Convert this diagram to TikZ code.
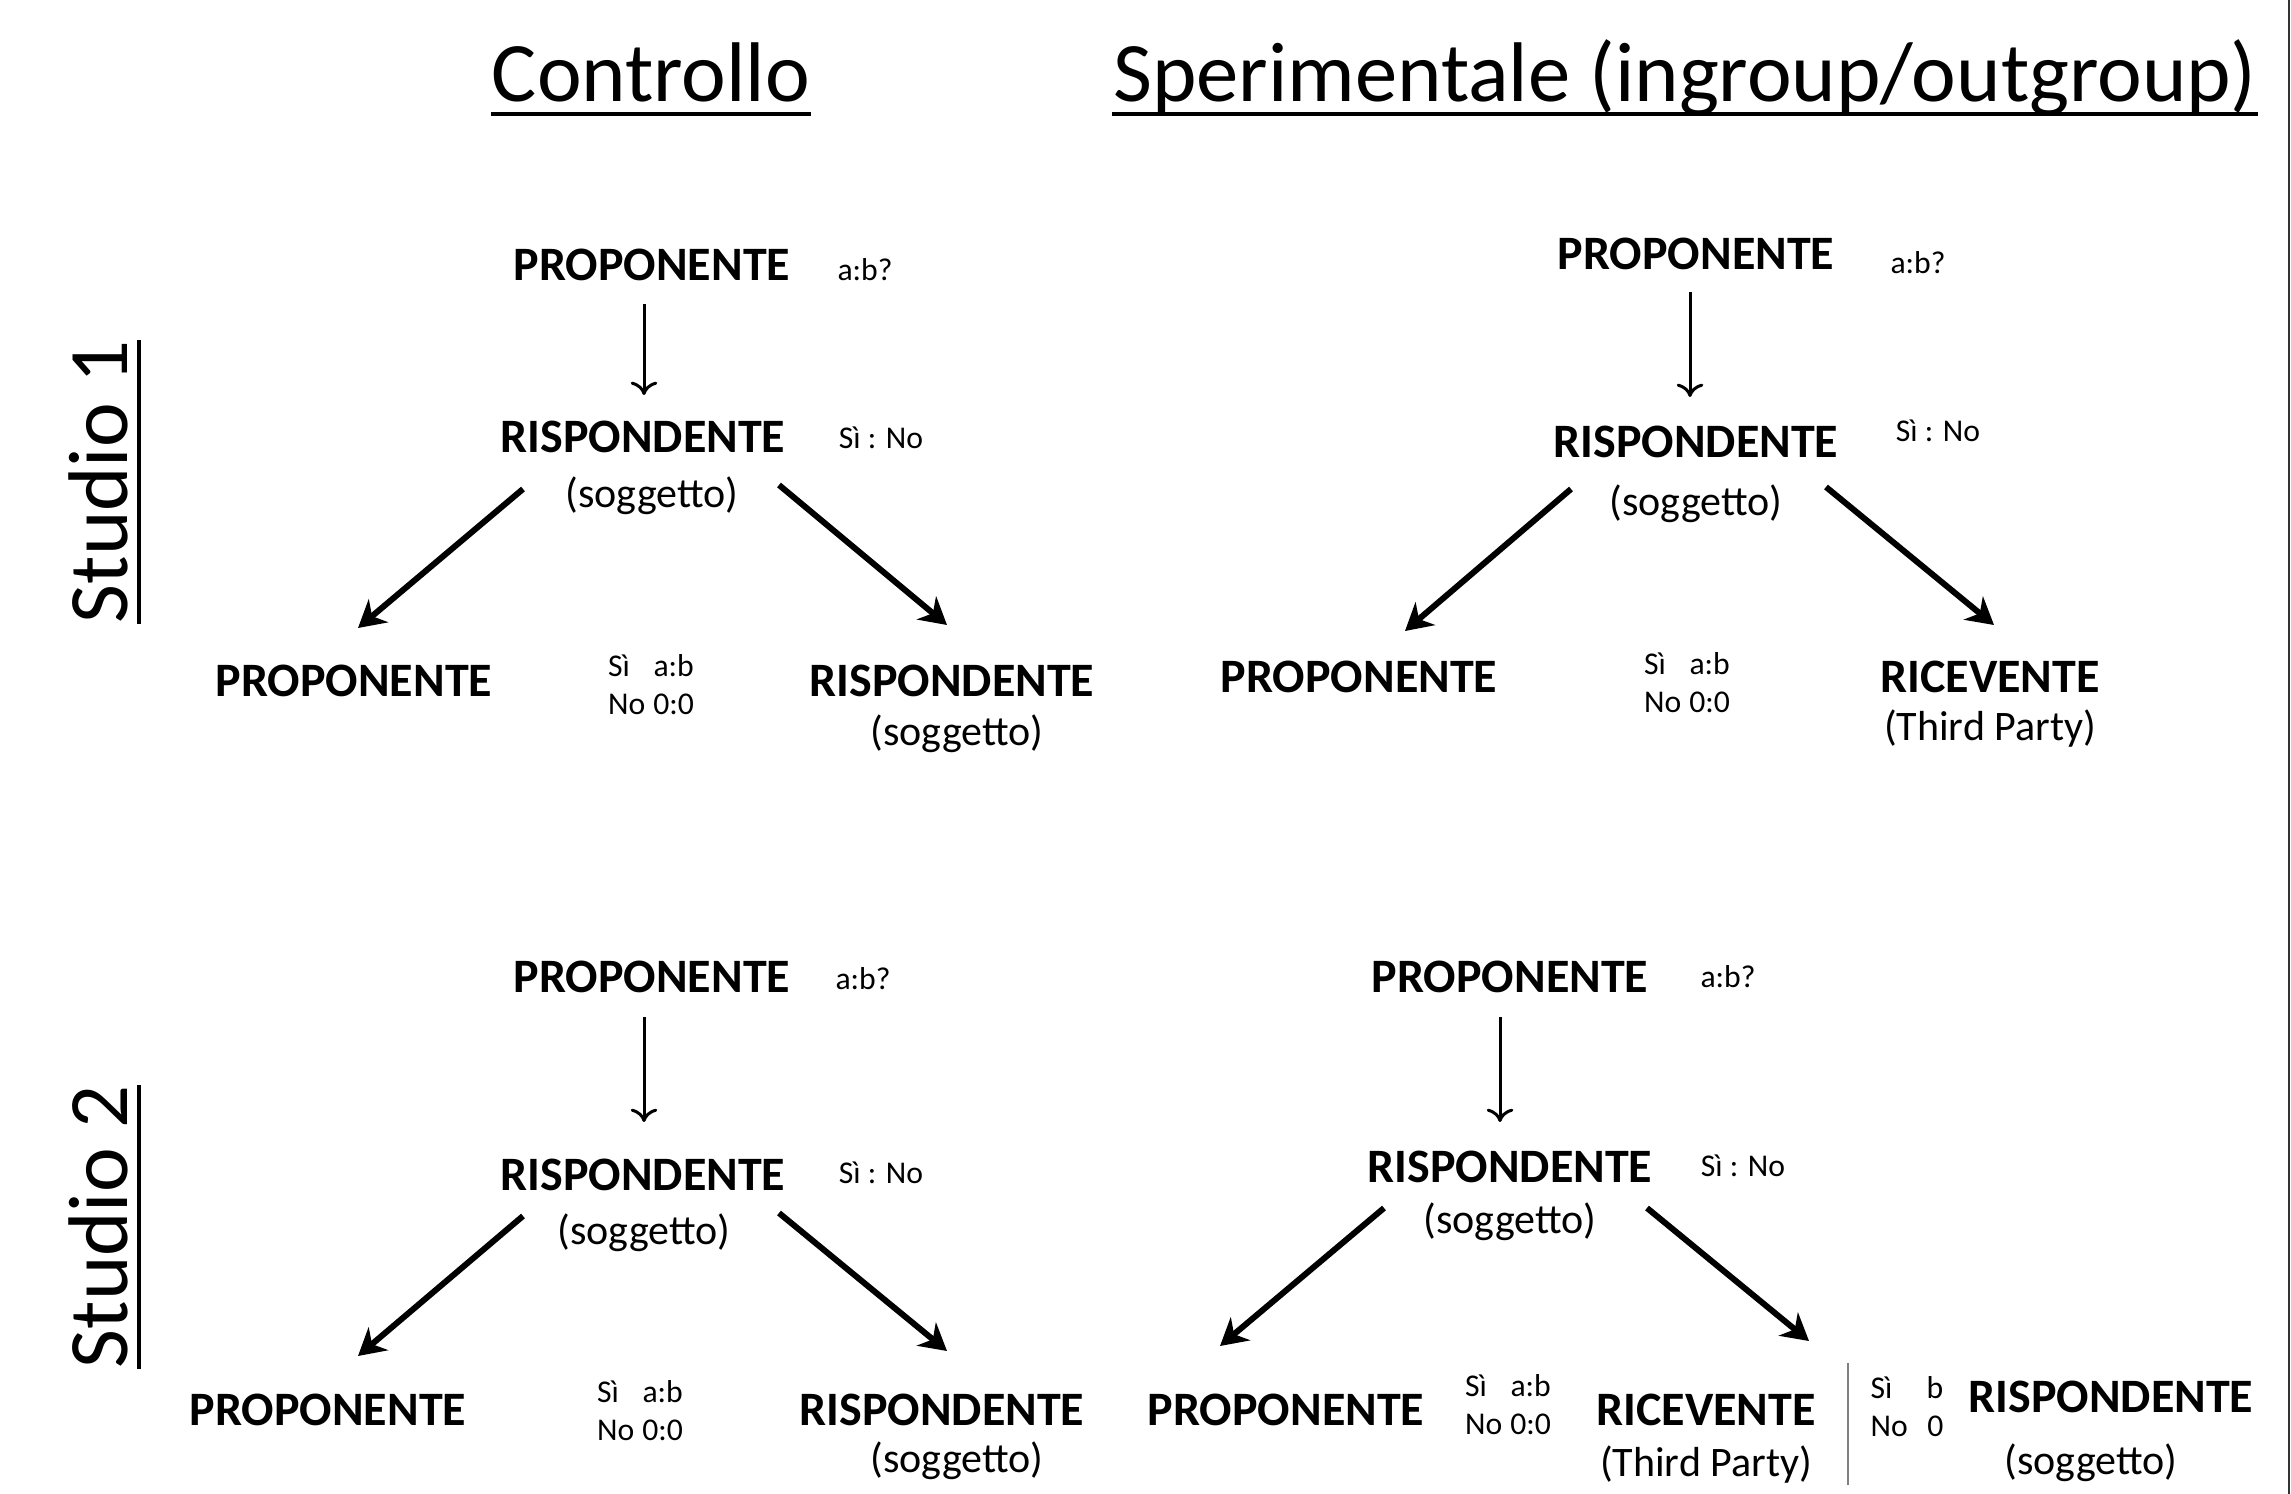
\documentclass[tikz,border=0pt]{standalone}
\usepackage{fontspec}
\setmainfont{Carlito}
\usetikzlibrary{arrows.meta}
\newcommand{\payoff}[2]{\begin{tabular}{@{}l@{\hspace{0.25em}}r@{}}Sì&#1\\No&#2\end{tabular}}
\begin{document}
\begin{tikzpicture}[x=0.3pt,y=-0.3pt,
 title/.style={font=\fontsize{25.4}{30}\selectfont, inner sep=0pt},
 lbl/.style={font=\bfseries\fontsize{14.4}{17}\selectfont, inner sep=0pt},
 sub/.style={font=\fontsize{12.6}{15}\selectfont, inner sep=0pt},
 small/.style={font=\fontsize{9.5}{11.5}\selectfont, inner sep=0pt},
 thinarr/.style={-{To[length=4pt,width=8pt,line width=0.9pt]}, line width=0.9pt},
 thickarr/.style={-{Stealth[length=8pt,width=9pt,inset=2.5pt]}, line width=1.8pt},
 uline/.style={line width=1.4pt},
 sepline/.style={line width=0.6pt, draw=gray},
]
\useasboundingbox[fill=white] (0,0) rectangle (2291,1494);
\draw[line width=0.6pt, draw=black!80] (2289,0) -- (2289,1494);

% titles
\node[title, anchor=base] (tc) at (651,102) {Controllo};
\draw[uline] ([yshift=-3.6pt]tc.base west) -- ([yshift=-3.6pt]tc.base east);
\node[title, anchor=base] (ts) at (1685,102) {Sperimentale (ingroup/outgroup)};
\draw[uline] ([yshift=-3.6pt]ts.base west) -- ([yshift=-3.6pt]ts.base east);
\node[title, anchor=base, rotate=90] (st1) at (127,482) {Studio 1};
\draw[uline] ([xshift=3.6pt]st1.base west) -- ([xshift=3.6pt]st1.base east);
\node[title, anchor=base, rotate=90] (st2) at (127,1227) {Studio 2};
\draw[uline] ([xshift=3.6pt]st2.base west) -- ([xshift=3.6pt]st2.base east);

% Tree 1
\node[lbl] (t1p) at (652,265) {PROPONENTE};
\node[small] (t1q) at (865,270) {a:b?};
\node[lbl] (t1r) at (643,437) {RISPONDENTE};
\node[small] (t1d) at (881,438) {Sì : No};
\node[sub] (t1s) at (652,496) {(soggetto)};
\node[lbl] (t1pp) at (354,681) {PROPONENTE};
\node[small] (t1pay) at (651,688) {\payoff{a:b}{0:0}};
\node[lbl] (t1rr) at (952,681) {RISPONDENTE};
\node[sub] (t1ss) at (957,734) {(soggetto)};
\coordinate (t1a) at (644,304); \coordinate (t1b) at (644,395);
\coordinate (t1la) at (523,489); \coordinate (t1lb) at (358,628);
\coordinate (t1ra) at (779,485); \coordinate (t1rb) at (947,625);
\draw[thinarr] (t1a) -- (t1b);
\draw[thickarr] (t1la) -- (t1lb);
\draw[thickarr] (t1ra) -- (t1rb);

% Tree 2
\node[lbl] (t2p) at (1696,254) {PROPONENTE};
\node[small] (t2q) at (1918,263) {a:b?};
\node[lbl] (t2r) at (1696,442) {RISPONDENTE};
\node[small] (t2d) at (1938,431) {Sì : No};
\node[sub] (t2s) at (1696,504) {(soggetto)};
\node[lbl] (t2pp) at (1359,677) {PROPONENTE};
\node[small] (t2pay) at (1687,686) {\payoff{a:b}{0:0}};
\node[lbl] (t2rr) at (1990,677) {RICEVENTE};
\node[sub] (t2ss) at (1990,729) {(Third Party)};
\coordinate (t2a) at (1690,292); \coordinate (t2b) at (1690,397);
\coordinate (t2la) at (1571,489); \coordinate (t2lb) at (1405,631);
\coordinate (t2ra) at (1826,487); \coordinate (t2rb) at (1994,625);
\draw[thinarr] (t2a) -- (t2b);
\draw[thickarr] (t2la) -- (t2lb);
\draw[thickarr] (t2ra) -- (t2rb);

% Tree 3
\node[lbl] (t3p) at (652,977) {PROPONENTE};
\node[small] (t3q) at (863,979) {a:b?};
\node[lbl] (t3r) at (643,1175) {RISPONDENTE};
\node[small] (t3d) at (881,1173) {Sì : No};
\node[sub] (t3s) at (644,1233) {(soggetto)};
\node[lbl] (t3pp) at (328,1410) {PROPONENTE};
\node[small] (t3pay) at (640,1414) {\payoff{a:b}{0:0}};
\node[lbl] (t3rr) at (942,1410) {RISPONDENTE};
\node[sub] (t3ss) at (957,1461) {(soggetto)};
\coordinate (t3a) at (644,1017); \coordinate (t3b) at (644,1122);
\coordinate (t3la) at (523,1216); \coordinate (t3lb) at (358,1356);
\coordinate (t3ra) at (779,1213); \coordinate (t3rb) at (947,1351);
\draw[thinarr] (t3a) -- (t3b);
\draw[thickarr] (t3la) -- (t3lb);
\draw[thickarr] (t3ra) -- (t3rb);

% Tree 4
\node[lbl] (t4p) at (1510,977) {PROPONENTE};
\node[small] (t4q) at (1728,977) {a:b?};
\node[lbl] (t4r) at (1510,1167) {RISPONDENTE};
\node[small] (t4d) at (1743,1166) {Sì : No};
\node[sub] (t4s) at (1510,1222) {(soggetto)};
\node[lbl] (t4pp) at (1286,1410) {PROPONENTE};
\node[small] (t4pay) at (1508,1408) {\payoff{a:b}{0:0}};
\node[lbl] (t4rr) at (1706,1410) {RICEVENTE};
\node[sub] (t4ss) at (1706,1465) {(Third Party)};
\node[small] (t4pay2) at (1907,1410) {\begin{tabular}{@{}l@{\hspace{0.6em}}r@{}}Sì&b\\No&0\end{tabular}};
\node[lbl] (t4x) at (2111,1397) {RISPONDENTE};
\node[sub] (t4xs) at (2091,1463) {(soggetto)};
\coordinate (t4a) at (1500,1017); \coordinate (t4b) at (1500,1122);
\coordinate (t4la) at (1384,1208); \coordinate (t4lb) at (1220,1346);
\coordinate (t4ra) at (1647,1208); \coordinate (t4rb) at (1809,1341);
\draw[thinarr] (t4a) -- (t4b);
\draw[thickarr] (t4la) -- (t4lb);
\draw[thickarr] (t4ra) -- (t4rb);
\draw[sepline] (1848,1363) -- (1848,1485);
\end{tikzpicture}
\end{document}
